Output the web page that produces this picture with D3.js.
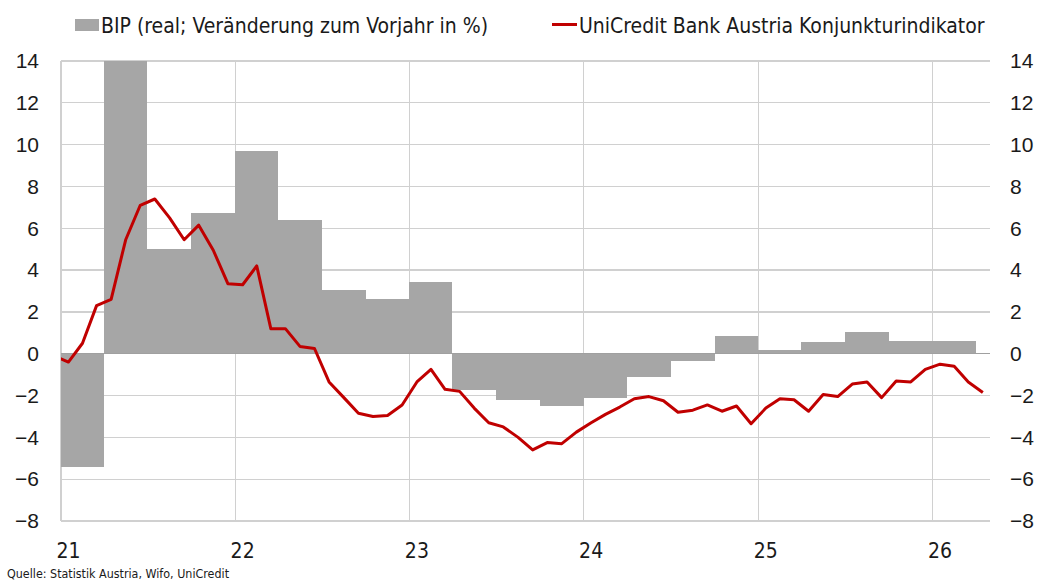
<!DOCTYPE html>
<html>
  <head>
    <script src="https://cdn.jsdelivr.net/npm/d3@7"></script>
    <style type="text/css">
      body {
        margin: 0;
        background: #fff;
        font-family: "DejaVu Sans Condensed", "DejaVu Sans", sans-serif;
      }
      .grid line { stroke: #d0d0d0; stroke-width: 1.3; shape-rendering: crispEdges; }
      .axis text { fill: #1a1a1a; font-size: 21px; }
    </style>
  </head>
  <body>
    <script type="text/javascript">
      var w = 1039, h = 581,
          margin = { top: 61, right: 49, bottom: 61, left: 61 };

      // BIP, quarterly (real, % y/y), from 2021Q1
      var quarters = ["2021-01","2021-04","2021-07","2021-10","2022-01","2022-04","2022-07","2022-10",
                      "2023-01","2023-04","2023-07","2023-10","2024-01","2024-04","2024-07","2024-10",
                      "2025-01","2025-04","2025-07","2025-10","2026-01"];
      var gdp = [-5.4, 14.0, 5.0, 6.75, 9.7, 6.4, 3.05, 2.6,
                 3.45, -1.75, -2.2, -2.5, -2.1, -1.1, -0.35, 0.85,
                 0.2, 0.55, 1.05, 0.6, 0.6];

      // Konjunkturindikator, monthly, Dec 2020 .. Apr 2026
      var months = d3.timeMonths(new Date(2020, 11, 1), new Date(2026, 4, 1));
      var indicator = [-0.1,
        -0.4, 0.5, 2.3, 2.6, 5.45, 7.1, 7.4, 6.5, 5.45, 6.15, 4.95, 3.35,
        3.3, 4.2, 1.2, 1.2, 0.35, 0.25, -1.35, -2.1, -2.85, -3.0, -2.95, -2.45,
        -1.35, -0.75, -1.7, -1.8, -2.6, -3.3, -3.5, -4.0, -4.6, -4.25, -4.3, -3.75,
        -3.3, -2.9, -2.55, -2.15, -2.05, -2.25, -2.8, -2.7, -2.45, -2.75, -2.5, -3.35,
        -2.6, -2.15, -2.2, -2.75, -1.95, -2.05, -1.45, -1.35, -2.1, -1.3, -1.35, -0.75,
        -0.5, -0.6, -1.35, -1.85];

      var yTicks = [-8, -6, -4, -2, 0, 2, 4, 6, 8, 10, 12, 14];
      var years = [2021, 2022, 2023, 2024, 2025, 2026];
      var yearLabels = ["21", "22", "23", "24", "25", "26"];

      var parseMonth = d3.timeParse("%Y-%m");

      var svg = d3.select("body").append("svg")
          .attr("width", w)
          .attr("height", h);

      var xScale = d3.scaleTime()
          .domain([new Date(2021, 0, 1), new Date(2026, 4, 1)])
          .range([margin.left, w - margin.right]);

      var yScale = d3.scaleLinear()
          .domain([-8, 14])
          .range([h - margin.bottom + 1, margin.top]);

      // middle of a month, for the line points and the year labels
      function midMonth(d) {
        return new Date((d.getTime() + d3.timeMonth.offset(d, 1).getTime()) / 2);
      }

      // Gridlines
      var grid = svg.append("g").attr("class", "grid");
      grid.selectAll(".hl")
          .data(yTicks)
          .enter().append("line")
          .attr("x1", margin.left).attr("x2", w - margin.right)
          .attr("y1", function(d) { return yScale(d); })
          .attr("y2", function(d) { return yScale(d); });
      grid.selectAll(".vl")
          .data(years)
          .enter().append("line")
          .attr("x1", function(d) { return xScale(new Date(d, 0, 1)); })
          .attr("x2", function(d) { return xScale(new Date(d, 0, 1)); })
          .attr("y1", yScale(14)).attr("y2", yScale(-8));

      svg.append("clipPath").attr("id", "plot")
        .append("rect")
          .attr("x", margin.left).attr("y", yScale(14))
          .attr("width", w - margin.right - margin.left)
          .attr("height", yScale(-8) - yScale(14));

      // GDP bars, one quarter wide
      svg.append("g")
          .attr("clip-path", "url(#plot)")
          .attr("shape-rendering", "crispEdges")
        .selectAll("rect")
          .data(gdp)
          .enter().append("rect")
          .attr("x", function(d, i) { return Math.round(xScale(parseMonth(quarters[i]))); })
          .attr("width", function(d, i) {
            var s = parseMonth(quarters[i]);
            return Math.round(xScale(d3.timeMonth.offset(s, 3))) - Math.round(xScale(s));
          })
          .attr("y", function(d) { return yScale(Math.max(0, d)); })
          .attr("height", function(d) { return Math.abs(yScale(d) - yScale(0)); })
          .attr("fill", "#a6a6a6");

      // zero line
      svg.append("line")
          .attr("x1", margin.left).attr("x2", w - margin.right)
          .attr("y1", yScale(0)).attr("y2", yScale(0))
          .attr("stroke", "#a0a0a0").attr("stroke-width", 1.3)
          .attr("shape-rendering", "crispEdges");

      // indicator line
      var line = d3.line()
          .x(function(d, i) { return xScale(midMonth(months[i])); })
          .y(function(d) { return yScale(d); });

      svg.append("path")
          .datum(indicator)
          .attr("clip-path", "url(#plot)")
          .attr("d", line)
          .attr("fill", "none")
          .attr("stroke", "#c00000")
          .attr("stroke-width", 3)
          .attr("stroke-linejoin", "round");

      // Axes
      var yLeft = d3.axisLeft(yScale).tickValues(yTicks).tickSize(0).tickPadding(22);
      var yRight = d3.axisRight(yScale).tickValues(yTicks).tickSize(0).tickPadding(0);

      svg.append("g")
          .attr("class", "axis")
          .attr("transform", "translate(" + [margin.left, 0] + ")")
          .call(yLeft)
          .call(function(g) { g.select(".domain").remove(); });

      svg.append("g")
          .attr("class", "axis")
          .attr("transform", "translate(" + [1010, 0] + ")")
          .call(yRight)
          .call(function(g) { g.select(".domain").remove(); });

      svg.selectAll(".axis text").attr("font-family", null).attr("font-size", null);

      svg.append("g")
          .attr("class", "axis")
        .selectAll("text")
          .data(years)
          .enter().append("text")
          .attr("x", function(d) { return xScale(midMonth(new Date(d, 0, 1))); })
          .attr("y", 558)
          .attr("text-anchor", "middle")
          .text(function(d, i) { return yearLabels[i]; });

      // Legend
      var legend = svg.append("g").attr("font-size", 21).attr("fill", "#1a1a1a");
      legend.append("rect")
          .attr("x", 75).attr("y", 19).attr("width", 24).attr("height", 12)
          .attr("fill", "#a6a6a6");
      legend.append("text")
          .attr("x", 101).attr("y", 33)
          .text("BIP (real; Veränderung zum Vorjahr in %)");
      legend.append("line")
          .attr("x1", 552).attr("x2", 577).attr("y1", 24.5).attr("y2", 24.5)
          .attr("stroke", "#c00000").attr("stroke-width", 3);
      legend.append("text")
          .attr("x", 579).attr("y", 33)
          .text("UniCredit Bank Austria Konjunkturindikator");

      // Source
      svg.append("text")
          .attr("x", 7).attr("y", 578)
          .attr("font-size", 12.4).attr("fill", "#1a1a1a")
          .text("Quelle: Statistik Austria, Wifo, UniCredit");
    </script>
  </body>
</html>
